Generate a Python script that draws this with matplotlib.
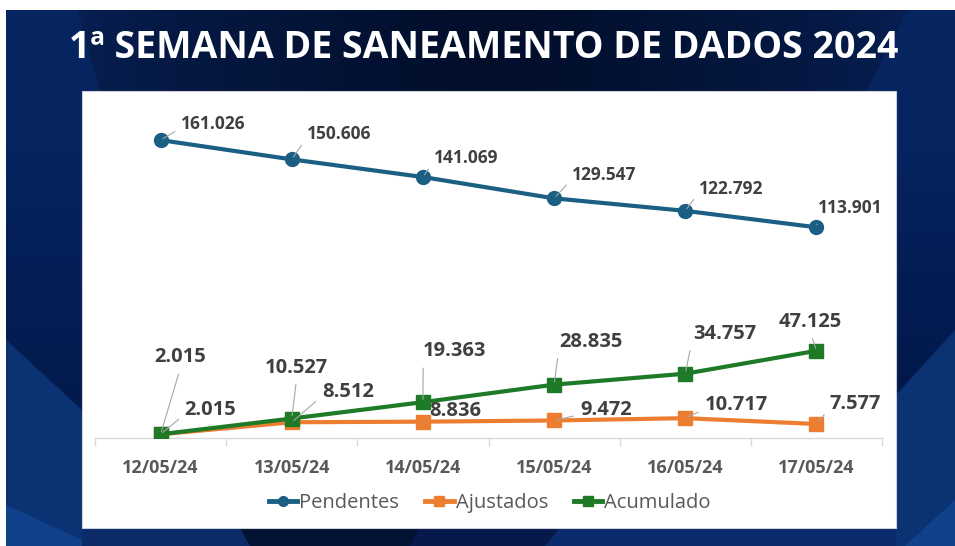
import numpy as np
import matplotlib
matplotlib.use("Agg")
import matplotlib.pyplot as plt
from matplotlib.patches import Polygon, Rectangle
from matplotlib.lines import Line2D

plt.rcParams["font.family"] = ["Open Sans", "DejaVu Sans"]

# ---- data -------------------------------------------------------------
dates = ["12/05/24", "13/05/24", "14/05/24", "15/05/24", "16/05/24", "17/05/24"]
pendentes = [161026, 150606, 141069, 129547, 122792, 113901]
ajustados = [2015, 8512, 8836, 9472, 10717, 7577]
acumulado = [2015, 10527, 19363, 28835, 34757, 47125]

title = "1ª SEMANA DE SANEAMENTO DE DADOS 2024"

# label offsets in pixels (dx right, dy down) from each point
off_pend = [(53, -16), (47, -25), (43, -19), (50, -23), (46, -22), (34, -19)]
off_ajus = [(50, -24), (56, -30), (32, -11), (52, -10), (51, -13), (39, -20)]
off_acum = [(20, -77), (5, -51), (32, -51), (37, -43), (39, -40), (-6, -29)]

C_PEND = "#1b5f84"
C_AJUS = "#ed7d31"
C_ACUM = "#1e7a26"
C_TEXT = "#404040"
C_LEAD = "#a6a6a6"

W, H = 955, 546
fig = plt.figure(figsize=(W / 100, H / 100), dpi=100, facecolor="white")

# ---- background (pixel coordinates, y down) ---------------------------
bg = fig.add_axes([0, 0, 1, 1], zorder=-5)
bg.set_xlim(0, W)
bg.set_ylim(H, 0)
bg.axis("off")


def hexrgb(h):
    return np.array([int(h[i:i + 2], 16) for i in (1, 3, 5)]) / 255


def poly(pts, color):
    bg.add_patch(Polygon(pts, closed=True, facecolor=color,
                         edgecolor="none"))


def grad_poly(pts, c0, c1, vertical=True, mid=False):
    xs = [p[0] for p in pts]
    ys = [p[1] for p in pts]
    t = np.linspace(0, 1, 200)
    if mid:
        t = (1 - np.abs(t - 0.5) * 2) ** 0.7
    cols = hexrgb(c0)[None, :] + (hexrgb(c1) - hexrgb(c0))[None, :] * t[:, None]
    img = cols[:, None, :] if vertical else cols[None, :, :]
    im = bg.imshow(img, extent=(min(xs), max(xs), max(ys), min(ys)),
                   aspect="auto", zorder=1, interpolation="bilinear")
    clip = Polygon(pts, closed=True, transform=bg.transData,
                   facecolor="none", edgecolor="none")
    bg.add_patch(clip)
    im.set_clip_path(clip)


poly([(6, 10), (W, 10), (W, H), (6, H)], "#062460")

# dark centre band behind the title
grad_poly([(78, 10), (908, 10), (866, 92), (100, 92)],
          "#071f52", "#020e2a", vertical=False, mid=True)

# side facets
grad_poly([(6, 150), (82, 150), (82, 410), (6, 340)],
          "#062460", "#031a4c")
poly([(6, 340), (82, 410), (82, H), (6, H)], "#0b3374")
poly([(6, 505), (82, 540), (82, H), (6, H)], "#10418a")
grad_poly([(896, 150), (W, 150), (W, 330), (896, 395)],
          "#062460", "#02184a")
poly([(896, 395), (W, 330), (W, H), (896, H)], "#0b3374")
poly([(905, H), (W, 500), (W, H)], "#10418a")
# bottom strip facets
poly([(82, 528), (240, 528), (250, H), (82, H)], "#0a2a68")
poly([(240, 528), (420, 528), (410, H), (250, H)], "#031333")
poly([(420, 528), (560, 528), (545, H), (410, H)], "#06194a")
poly([(560, 528), (896, 528), (896, H), (545, H)], "#0a2c6c")

# white panel
bg.add_patch(Rectangle((82, 91), 814, 437, facecolor="white",
                       edgecolor="#c9ced8", lw=0.8, zorder=3))

fig.text(484 / W, 1 - 48 / H, title, color="white", fontsize=27,
         fontweight="bold", ha="center", va="center")

# ---- chart ------------------------------------------------------------
ax = fig.add_axes([95 / W, 1 - 438 / H, 787 / W, 333 / H], zorder=2)
ax.patch.set_alpha(0)
x = np.arange(len(dates))

ax.plot(x, pendentes, color=C_PEND, lw=3, marker="o", ms=10,
        solid_capstyle="round", zorder=3, label="Pendentes")
ax.plot(x, ajustados, color=C_AJUS, lw=3, marker="s", ms=10,
        zorder=3, label="Ajustados")
ax.plot(x, acumulado, color=C_ACUM, lw=3, marker="s", ms=10,
        zorder=4, label="Acumulado")

ax.set_xlim(-0.5, len(dates) - 0.5)
ax.set_ylim(0, 180000)

for s in ["top", "right", "left"]:
    ax.spines[s].set_visible(False)
ax.spines["bottom"].set_color("#d9d9d9")
ax.spines["bottom"].set_linewidth(1)
ax.set_yticks([])

# category labels on major ticks, boundary tick marks on minor ticks
ax.set_xticks(x)
ax.set_xticklabels(dates)
ax.tick_params(axis="x", which="major", length=0, pad=15, labelsize=13,
               labelcolor="#595959")
for t in ax.get_xticklabels():
    t.set_fontweight("bold")
ax.set_xticks(np.arange(-0.5, len(dates), 1), minor=True)
ax.tick_params(axis="x", which="minor", length=6, color="#d9d9d9", width=1)


def fmt(v):
    return f"{v:,}".replace(",", ".")


def label_series(vals, offs, size):
    for xi, v, (dx, dy) in zip(x, vals, offs):
        rel = (0.0, 0.3) if dx > 25 else (0.5, 0.0)
        ax.annotate(fmt(v), xy=(xi, v), xytext=(dx, -dy),
                    textcoords="offset pixels", ha="center", va="center",
                    fontsize=size, fontweight="bold", color=C_TEXT,
                    zorder=6,
                    arrowprops=dict(arrowstyle="-", color=C_LEAD, lw=0.8,
                                    relpos=rel, shrinkA=3, shrinkB=2))


label_series(pendentes, off_pend, 12.5)
label_series(ajustados, off_ajus, 14.5)
label_series(acumulado, off_acum, 14.5)

handles = [Line2D([], [], color=C_PEND, lw=3.5, marker="o", ms=7),
           Line2D([], [], color=C_AJUS, lw=3.5, marker="s", ms=7),
           Line2D([], [], color=C_ACUM, lw=3.5, marker="s", ms=7)]
leg = fig.legend(handles, ["Pendentes", "Ajustados", "Acumulado"],
                 loc="center", bbox_to_anchor=(490 / W, 1 - 503 / H),
                 ncol=3, frameon=False, fontsize=14.5, handlelength=1.4,
                 handletextpad=0.1, columnspacing=1.3)
for t in leg.get_texts():
    t.set_color("#595959")

fig.savefig("out.png", dpi=100, facecolor="white")
